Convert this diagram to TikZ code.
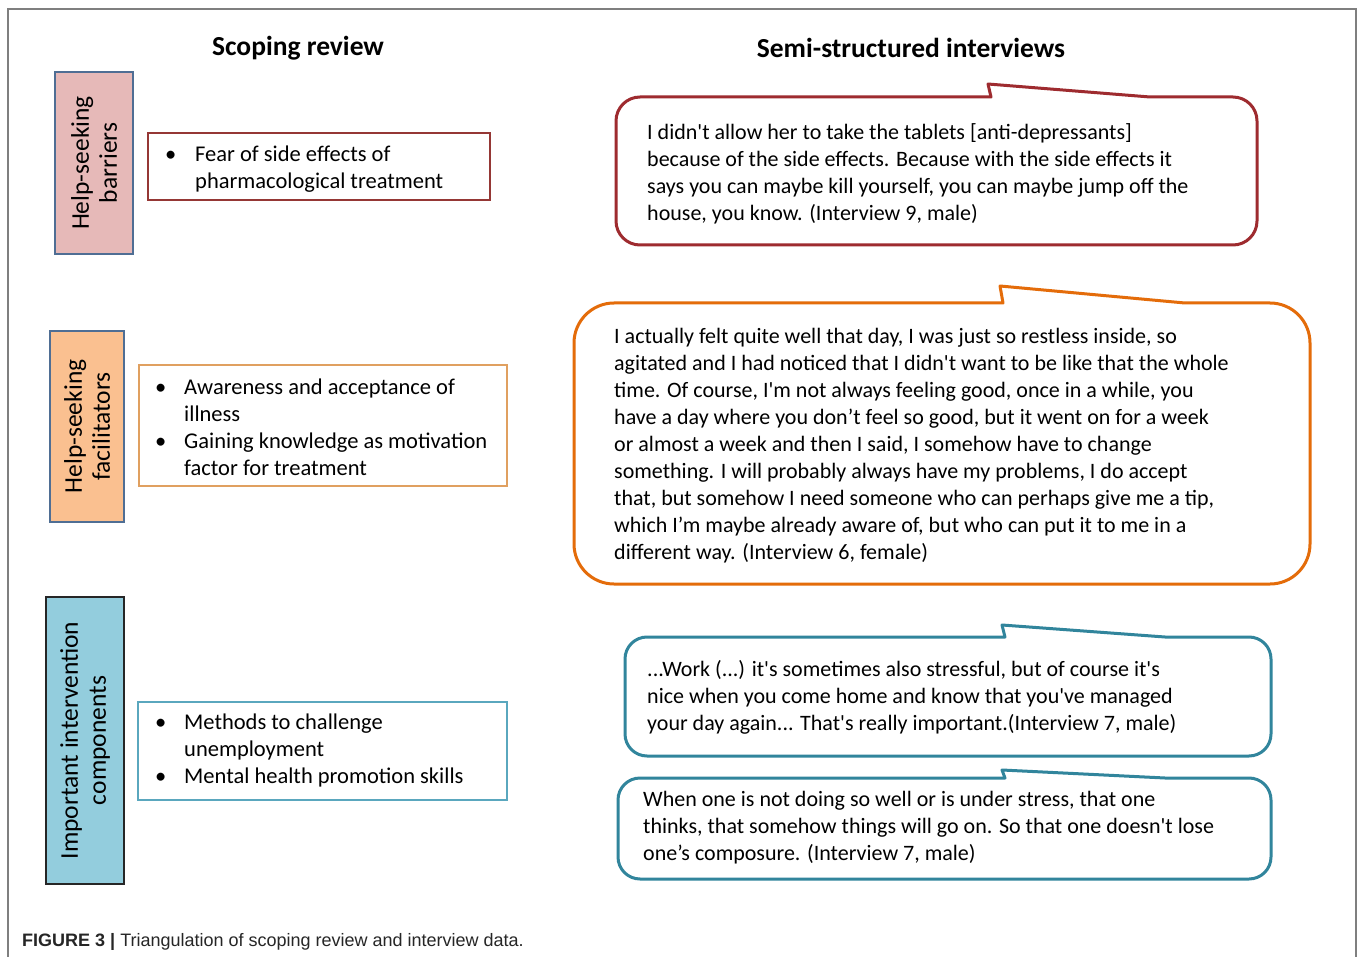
\documentclass[tikz,border=0pt]{standalone}
\usepackage{fontspec}
\newfontfamily\qfont{Carlito}
\newfontfamily\capfont{Liberation Sans}
\definecolor{pinkf}{HTML}{E6B9B8}
\definecolor{orangef}{HTML}{FAC090}
\definecolor{bluef}{HTML}{93CDDD}
\definecolor{labb}{HTML}{4F6E94}
\definecolor{darkred}{HTML}{9E2B2F}
\definecolor{boxred}{HTML}{953735}
\definecolor{orng}{HTML}{E46C0A}
\definecolor{boxorng}{HTML}{E0A060}
\definecolor{teal}{HTML}{31859C}
\definecolor{boxteal}{HTML}{5AA7BE}
\definecolor{framegray}{HTML}{7F7F7F}
\newcommand\mybubble[9]{%
 \draw[bubble,draw=#1] (#2,{#3+#6}) .. controls (#2,{#3+0.448*#6}) and ({#2+0.448*#6},#3) .. ({#2+#6},#3)
  -- (#7,#3) -- ({#7-3},#8) -- (#9,#3)
  -- ({#4-#6},#3) .. controls ({#4-0.448*#6},#3) and (#4,{#3+0.448*#6}) .. (#4,{#3+#6})
  -- (#4,{#5-#6}) .. controls (#4,{#5-0.448*#6}) and ({#4-0.448*#6},#5) .. ({#4-#6},#5)
  -- ({#2+#6},#5) .. controls ({#2+0.448*#6},#5) and (#2,{#5-0.448*#6}) .. (#2,{#5-#6}) -- cycle;}
\begin{document}
\begin{tikzpicture}[x=1pt,y=-1pt,
  bubble/.style={line width=3pt, line join=round},
  lab/.style={rotate=90, align=center, inner sep=0pt, font=\qfont\fontsize{25.5}{28}\selectfont},
  listbox/.style={draw, line width=1.2pt, inner sep=0pt},
  listtext/.style={anchor=north west, align=left, inner sep=0pt, font=\qfont\fontsize{22.5}{27}\selectfont},
  quote/.style={anchor=north west, align=left, inner sep=0pt, font=\qfont\fontsize{22}{27}\selectfont},
  head/.style={font=\qfont\bfseries\fontsize{27.5}{30}\selectfont}]
\useasboundingbox (0,0) rectangle (1357,957);
\fill[white] (0,0) rectangle (1357,957);
\draw[framegray, line width=1.5pt] (8,970) -- (8,9) -- (1356,9) -- (1356,970);

% headings
\node[head] (h1) at (298,48) {Scoping review};
\node[head] (h2) at (911,48) {Semi-structured interviews};

% category labels
\node[lab, fill=pinkf, draw=labb, line width=1.2pt, minimum width=182, minimum height=78] (l1) at (94,163) {Help-seeking\\barriers};
\node[lab, fill=orangef, draw=labb, line width=1.2pt, minimum width=191, minimum height=74] (l2) at (87,426.5) {Help-seeking\\facilitators};
\node[lab, fill=bluef, draw=black!85, line width=2pt, minimum width=287, minimum height=78] (l3) at (85,740.5) {Important intervention\\components};

% scoping review boxes
\node[listbox, draw=boxred, minimum width=342, minimum height=67] (b1) at (319,166.5) {};
\node[listbox, draw=boxorng, minimum width=368, minimum height=121] (b2) at (323,425.5) {};
\node[listbox, draw=boxteal, minimum width=369, minimum height=98] (b3) at (322.5,751) {};
\node[listtext] (t1) at (165,146) {\makebox[30pt][l]{•}Fear of side effects of\\\makebox[30pt]{}pharmacological treatment};
\node[listtext] (t2) at (155,379) {\makebox[29pt][l]{•}Awareness and acceptance of\\\makebox[29pt]{}illness\\\makebox[29pt][l]{•}Gaining knowledge as motivation\\\makebox[29pt]{}factor for treatment};
\node[listtext] (t3) at (155,714) {\makebox[29pt][l]{•}Methods to challenge\\\makebox[29pt]{}unemployment\\\makebox[29pt][l]{•}Mental health promotion skills};

% bubbles
\mybubble{darkred}{616}{97}{1257}{245}{24}{991}{84}{1150}
\mybubble{orng}{574}{303}{1310}{584}{40}{1003}{286}{1185}
\mybubble{teal}{625}{637}{1271}{756}{22}{1005}{625}{1165}
\mybubble{teal}{618}{778}{1271}{879}{22}{1005}{770}{1165}

\node[quote] (q1) at (647,123.5) {I didn't allow her to take the tablets [anti-depressants]\\because of the side effects. Because with the side effects it\\says you can maybe kill yourself, you can maybe jump off the\\house, you know. (Interview 9, male)};
\node[quote] (q2) at (614,328) {I actually felt quite well that day, I was just so restless inside, so\\agitated and I had noticed that I didn't want to be like that the whole\\time. Of course, I'm not always feeling good, once in a while, you\\have a day where you don’t feel so good, but it went on for a week\\or almost a week and then I said, I somehow have to change\\something. I will probably always have my problems, I do accept\\that, but somehow I need someone who can perhaps give me a tip,\\which I’m maybe already aware of, but who can put it to me in a\\different way. (Interview 6, female)};
\node[quote] (q3) at (647,660) {...Work (...) it's sometimes also stressful, but of course it's\\nice when you come home and know that you've managed\\your day again... That's really important.(Interview 7, male)};
\node[quote] (q4) at (643,791) {When one is not doing so well or is under stress, that one\\thinks, that somehow things will go on. So that one doesn't lose\\one’s composure. (Interview 7, male)};

% caption
\node[anchor=west, inner sep=0pt, font=\capfont\fontsize{18}{22}\selectfont, text=black!85] (cap) at (22,942) {\textbf{FIGURE 3 |} Triangulation of scoping review and interview data.};
\end{tikzpicture}
\end{document}
